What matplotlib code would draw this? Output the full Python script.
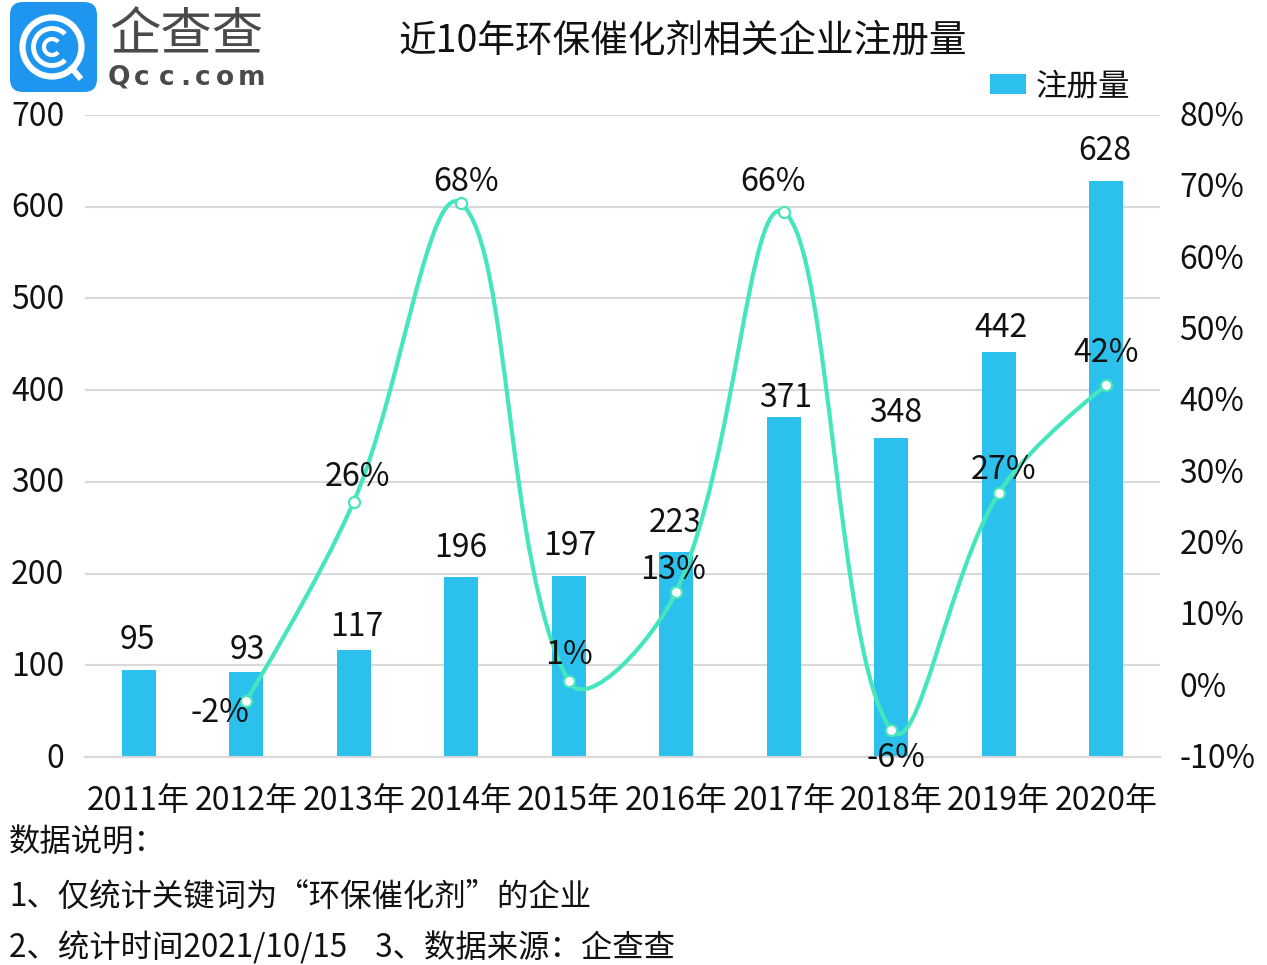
import numpy as np
import matplotlib
matplotlib.use("Agg")
import matplotlib.pyplot as plt
from matplotlib.path import Path
from matplotlib.patches import PathPatch, FancyBboxPatch, Arc, Rectangle
from matplotlib.transforms import ScaledTranslation

plt.rcParams['font.family'] = ['Noto Sans CJK SC', 'DejaVu Sans']

years = ['2011年','2012年','2013年','2014年','2015年','2016年','2017年','2018年','2019年','2020年']
counts = [95, 93, 117, 196, 197, 223, 371, 348, 442, 628]
growth = [-2.1, 25.8, 67.6, 0.6, 13.2, 66.4, -6.2, 27.0, 42.1]
left_ticks = [0, 100, 200, 300, 400, 500, 600, 700]
right_ticks = [-10, 0, 10, 20, 30, 40, 50, 60, 70, 80]
title = '近10年环保催化剂相关企业注册量'
notes = ['数据说明：', '1、仅统计关键词为“环保催化剂”的企业', '2、统计时间2021/10/15    3、数据来源：企查查']

W, H = 1267, 965
BAR = '#2CC1EC'
LINE = '#45E6BE'
TXT = '#111111'
PX = 72 / 100  # points per pixel

fig = plt.figure(figsize=(W/100, H/100), dpi=100)
ax = fig.add_axes([85/W, 1-757/H, (1160-85)/W, (757-115)/H])
x = np.arange(len(years))
ax.bar(x, counts, width=0.32, color=BAR, zorder=2, label='注册量')
ax.set_xlim(-0.5, 9.5)
ax.set_ylim(0, 700)
ax.set_yticks(left_ticks)
ax.set_xticks(x, years)
ax.tick_params(length=0, labelsize=23, labelcolor=TXT)
ax.tick_params(axis='x', pad=20)
ax.tick_params(axis='y', pad=15)
ax.grid(axis='y', color='#D9D9D9', lw=1.5, zorder=0)
for s in ['top', 'left', 'right']:
    ax.spines[s].set_visible(False)
ax.spines['bottom'].set_color('#D9D9D9')
ax.spines['bottom'].set_linewidth(1.5)
for lab in ax.get_yticklabels():
    lab.set_ha('right')
    lab.set_va('center')
    lab.set_transform(lab.get_transform() + ScaledTranslation(0, -1.5/100, fig.dpi_scale_trans))

count_dx = [-1, 1, 3, 0, 1, -1, 2, 4, 2, -1]
count_dy = [33, 25, 26, 32, 33, 32, 22, 28, 27, 33]
for xi, c, dx, dy in zip(x, counts, count_dx, count_dy):
    ax.annotate(str(c), (xi, c), xytext=(dx*PX, (dy-19)*PX), textcoords='offset points', ha='center', va='bottom',
                fontsize=23, color=TXT, zorder=6)

ax2 = ax.twinx()
ax2.set_ylim(-10, 80)
ax2.set_yticks(right_ticks, [f'{t}%' for t in right_ticks])
ax2.tick_params(length=0, labelsize=23, labelcolor=TXT, pad=14)
for s in ax2.spines.values():
    s.set_visible(False)
for lab in ax2.get_yticklabels():
    lab.set_transform(lab.get_transform() + ScaledTranslation(0, 1.5/100, fig.dpi_scale_trans))

# smooth line: Bezier through the growth values, tangents split by segment length
lx = x[1:].astype(float)
ly = np.array(growth, dtype=float)
sx, sy = 107.5, 642 / 90
pts = np.column_stack([lx * sx, ly * sy])
t = 0.38
out_c, in_c = [None] * len(pts), [None] * len(pts)
for i in range(len(pts)):
    if i == 0 or i == len(pts) - 1:
        out_c[i] = in_c[i] = pts[i]
        continue
    d0 = np.linalg.norm(pts[i] - pts[i-1])
    d1 = np.linalg.norm(pts[i+1] - pts[i])
    v = pts[i+1] - pts[i-1]
    in_c[i] = pts[i] - t * d0 / (d0 + d1) * v
    out_c[i] = pts[i] + t * d1 / (d0 + d1) * v
verts = [tuple(pts[0])]
codes = [Path.MOVETO]
for i in range(len(pts) - 1):
    verts += [tuple(out_c[i]), tuple(in_c[i+1]), tuple(pts[i+1])]
    codes += [Path.CURVE4] * 3
verts = [(a / sx, b / sy) for a, b in verts]
ax2.add_patch(PathPatch(Path(verts, codes), fc='none', ec=LINE, lw=3, zorder=3))
ax2.plot(lx, ly, ls='none', marker='o', ms=8, mfc='white', mec=LINE, mew=1.6, zorder=4)

offs = [(-26, -9), (4, 28), (5, 24), (0, 29), (-3, 25), (-11, 33), (5, -25), (5, 26), (0, 35)]
for xi, g, (dx, dy) in zip(lx, growth, offs):
    ax2.annotate(f'{g:.0f}%', (xi, g), xytext=(dx*PX, dy*PX - 3*PX), textcoords='offset points', ha='center', va='center',
                 fontsize=23.3, color=TXT, zorder=6)

# legend
fig.add_artist(Rectangle((990/W, 1-94/H), 36/W, 20/H, transform=fig.transFigure, fc=BAR, ec='none'))
fig.text(1036/W, 1-87/H, '注册量', fontsize=22.7, color=TXT, va='center', ha='left')

fig.text(683/W, 1-41/H, title, fontsize=27.1, color=TXT, ha='center', va='center')

for s, y in zip(notes, [843, 897, 948]):
    fig.text(9/W, 1-y/H, s, fontsize=22.6, color=TXT, ha='left', va='center')

# logo
ov = fig.add_axes([0, 0, 1, 1], facecolor='none')
ov.set_xlim(0, W)
ov.set_ylim(H, 0)
ov.axis('off')
ov.add_patch(FancyBboxPatch((10, 2), 87, 90, boxstyle='round,pad=0,rounding_size=13', fc='#1E96F0', ec='none'))
cx, cy = 52, 47
ov.add_patch(Arc((cx, cy), 59, 59, theta1=0, theta2=360, ec='white', lw=4.5))
ov.add_patch(Arc((cx, cy), 37, 37, theta1=45, theta2=315, ec='white', lw=3.5))
ov.add_patch(Arc((cx, cy), 16, 16, theta1=40, theta2=320, ec='white', lw=3))
ov.plot([70, 81], [66, 79], color='white', lw=4.3, solid_capstyle='butt')
ov.text(186, 36, '企查查', fontsize=37, color='#4A4A4A', ha='center', va='center')
logo_letters = 'Qcc.com'
logo_x = [119, 142, 167, 185, 203, 225, 251]
for ch, lx_ in zip(logo_letters, logo_x):
    ov.text(lx_, 78, ch, fontsize=19, color='#4A4A4A', ha='center', va='center', fontweight='bold', family='DejaVu Sans')

fig.savefig('out.png', dpi=100)
